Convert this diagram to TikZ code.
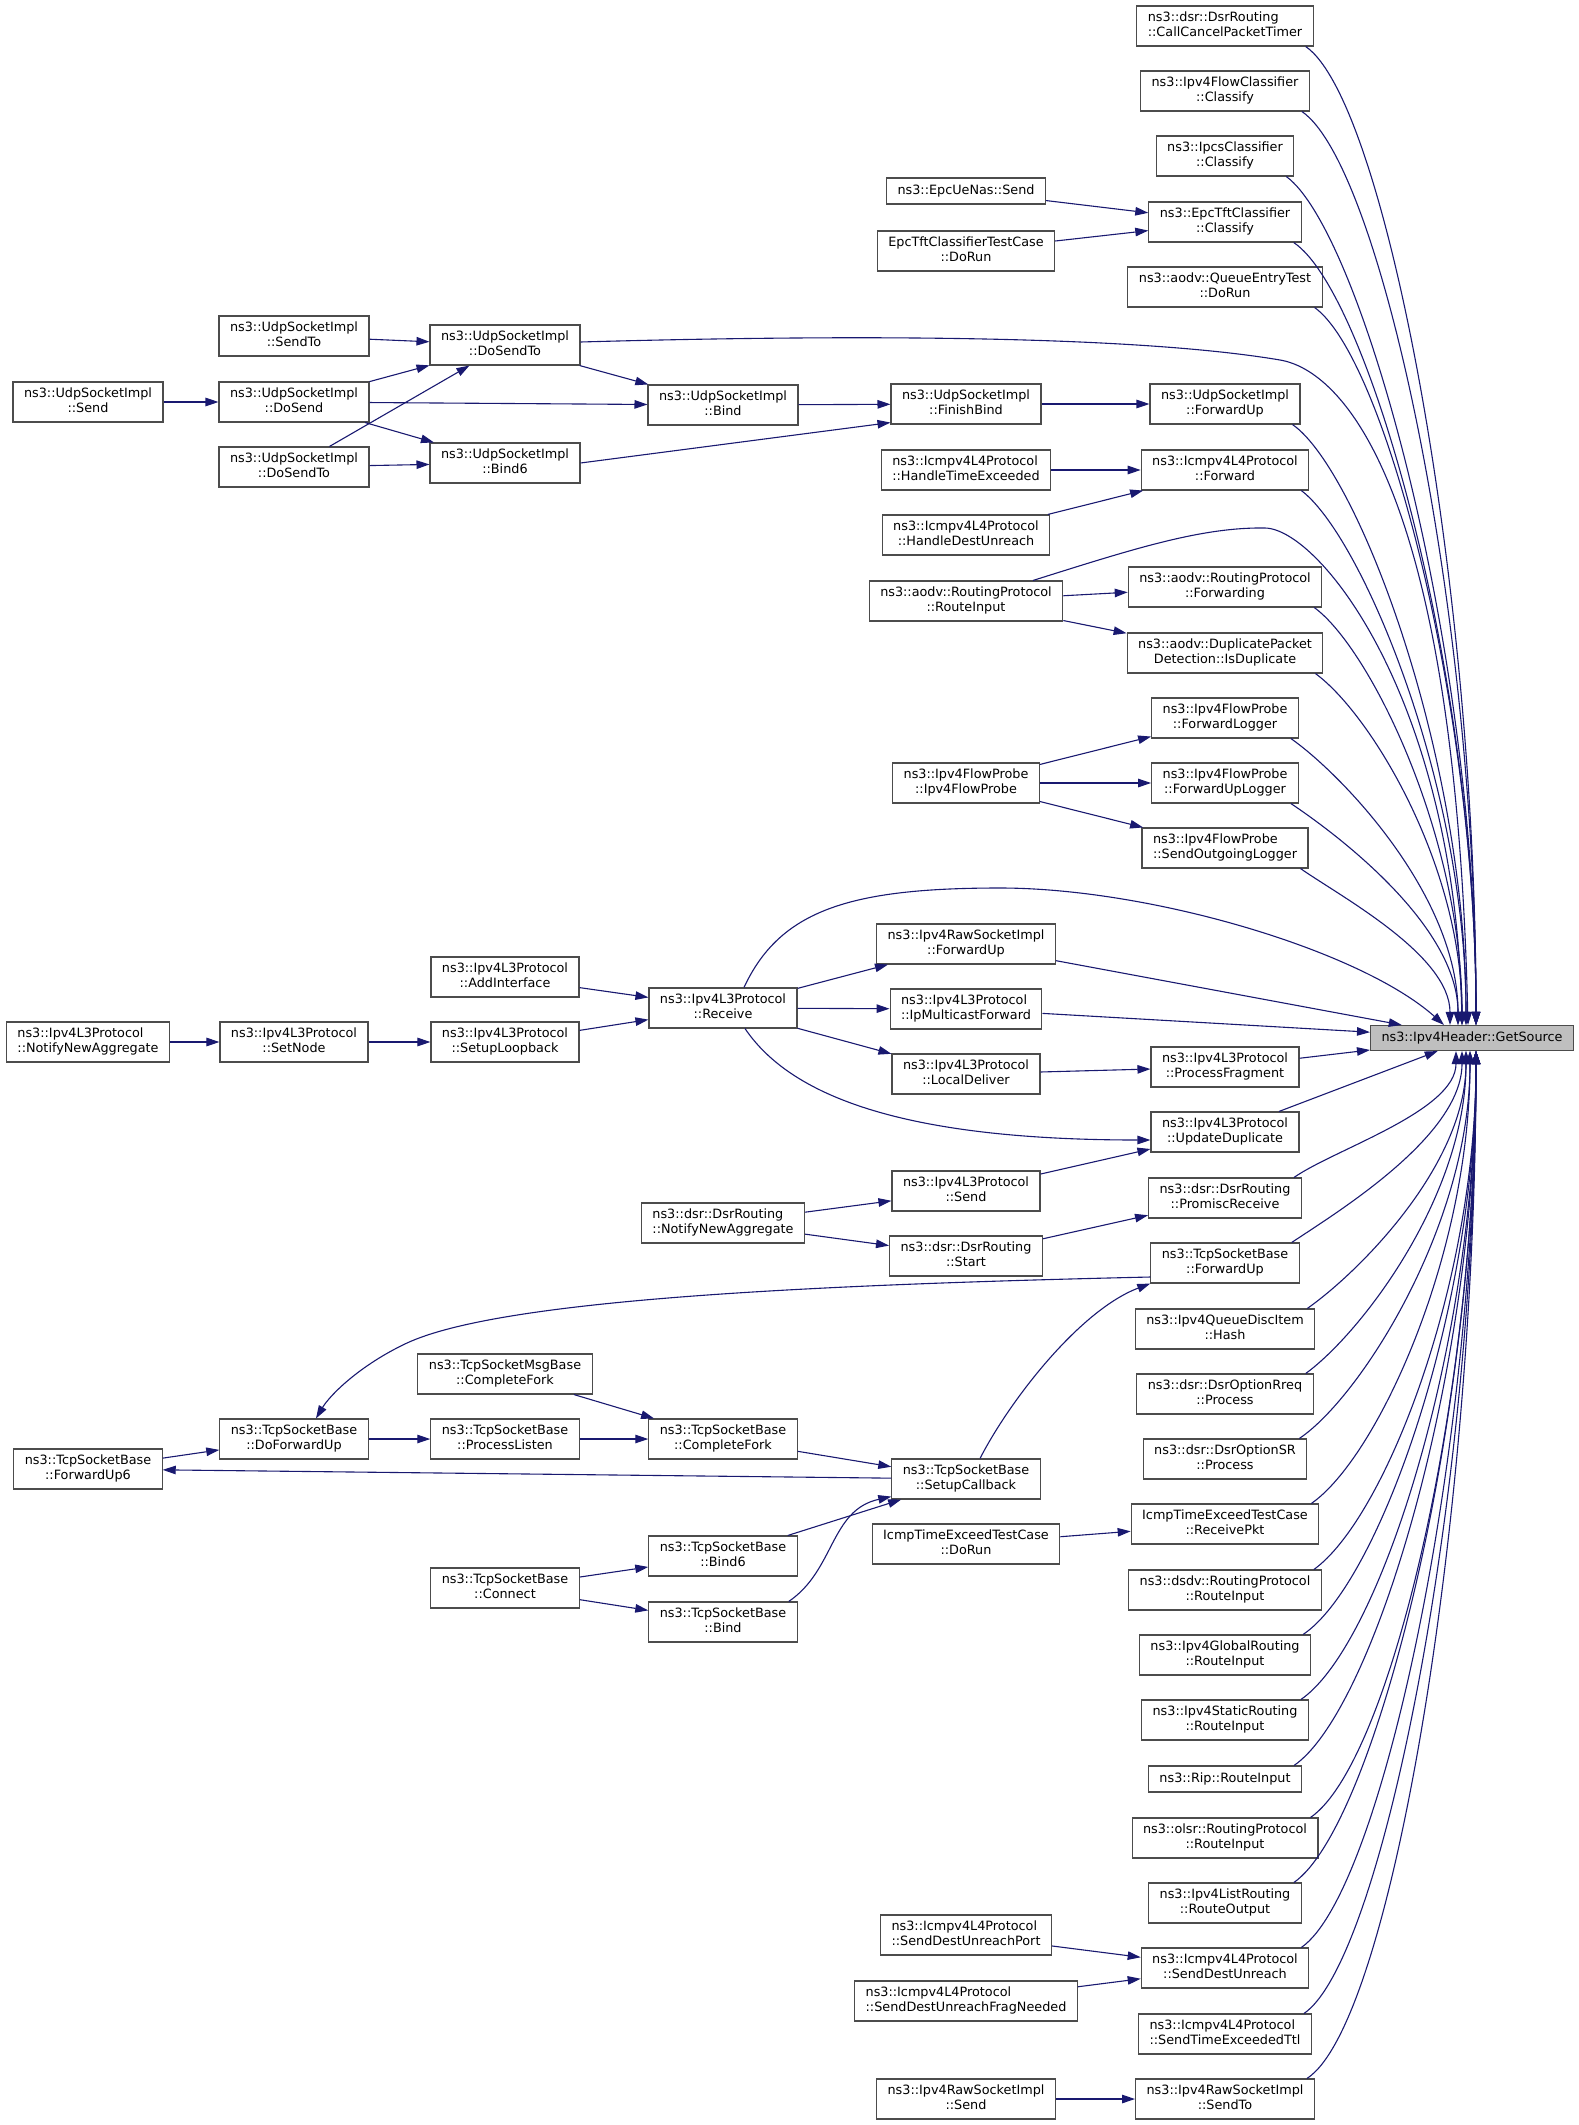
\documentclass[tikz,border=0pt]{standalone}
\usepackage{fontspec}
\setmainfont{DejaVu Sans}
\usetikzlibrary{arrows.meta}
\definecolor{edgeblue}{HTML}{191970}
\definecolor{nodegray}{HTML}{BFBFBF}
\newcommand{\nsname}[2]{\begin{tabular}{@{}l@{}}#1\\\multicolumn{1}{@{}c@{}}{#2}\end{tabular}}

\begin{document}
\begin{tikzpicture}[x=1pt, y=-1pt,
  fn/.style={draw=black!70, line width=1.1pt, fill=white, inner xsep=11pt,
    inner ysep=1pt, minimum height=40pt, font=\fontsize{12.8}{14.5}\selectfont},
  fnone/.style={fn, minimum height=26pt},
  call/.style={draw=edgeblue, line width=1.1pt,
    -{Triangle[length=13pt, width=8.5pt]}}]

  \useasboundingbox (0,0) rectangle (1579,2125);

  % the function itself
  \node[fnone, minimum height=25pt, fill=nodegray] (gs) at (1472,1038)
    {ns3::Ipv4Header::GetSource};

  % direct callers
  \node[fn] (cancel) at (1225,26) {\nsname{ns3::dsr::DsrRouting}{::CallCancelPacketTimer}};
  \node[fn] (flowcls) at (1225,91) {\nsname{ns3::Ipv4FlowClassifier}{::Classify}};
  \node[fn] (ipcs) at (1225,156) {\nsname{ns3::IpcsClassifier}{::Classify}};
  \node[fn] (epctft) at (1225,222) {\nsname{ns3::EpcTftClassifier}{::Classify}};
  \node[fn] (queuetest) at (1225,287) {\nsname{ns3::aodv::QueueEntryTest}{::DoRun}};
  \node[fn] (udpfwd) at (1225,404) {\nsname{ns3::UdpSocketImpl}{::ForwardUp}};
  \node[fn] (icmpfwd) at (1225,470) {\nsname{ns3::Icmpv4L4Protocol}{::Forward}};
  \node[fn] (aodvfwd) at (1225,587) {\nsname{ns3::aodv::RoutingProtocol}{::Forwarding}};
  \node[fn] (isdup) at (1225,653) {\nsname{ns3::aodv::DuplicatePacket}{Detection::IsDuplicate}};
  \node[fn] (fwdlog) at (1225,718) {\nsname{ns3::Ipv4FlowProbe}{::ForwardLogger}};
  \node[fn] (fwduplog) at (1225,783) {\nsname{ns3::Ipv4FlowProbe}{::ForwardUpLogger}};
  \node[fn] (sendlog) at (1225,848) {\nsname{ns3::Ipv4FlowProbe}{::SendOutgoingLogger}};
  \node[fn] (procfrag) at (1225,1067) {\nsname{ns3::Ipv4L3Protocol}{::ProcessFragment}};
  \node[fn] (updup) at (1225,1132) {\nsname{ns3::Ipv4L3Protocol}{::UpdateDuplicate}};
  \node[fn] (promisc) at (1225,1198) {\nsname{ns3::dsr::DsrRouting}{::PromiscReceive}};
  \node[fn] (tcpfwd) at (1225,1263) {\nsname{ns3::TcpSocketBase}{::ForwardUp}};
  \node[fn] (hash) at (1225,1329) {\nsname{ns3::Ipv4QueueDiscItem}{::Hash}};
  \node[fn] (rreq) at (1225,1394) {\nsname{ns3::dsr::DsrOptionRreq}{::Process}};
  \node[fn] (sr) at (1225,1459) {\nsname{ns3::dsr::DsrOptionSR}{::Process}};
  \node[fn] (rcvpkt) at (1225,1524) {\nsname{IcmpTimeExceedTestCase}{::ReceivePkt}};
  \node[fn] (dsdv) at (1225,1590) {\nsname{ns3::dsdv::RoutingProtocol}{::RouteInput}};
  \node[fn] (global) at (1225,1655) {\nsname{ns3::Ipv4GlobalRouting}{::RouteInput}};
  \node[fn] (static) at (1225,1720) {\nsname{ns3::Ipv4StaticRouting}{::RouteInput}};
  \node[fnone] (rip) at (1225,1779) {ns3::Rip::RouteInput};
  \node[fn] (olsr) at (1225,1838) {\nsname{ns3::olsr::RoutingProtocol}{::RouteInput}};
  \node[fn] (listrt) at (1225,1903) {\nsname{ns3::Ipv4ListRouting}{::RouteOutput}};
  \node[fn] (unreach) at (1225,1968) {\nsname{ns3::Icmpv4L4Protocol}{::SendDestUnreach}};
  \node[fn] (ttl) at (1225,2034) {\nsname{ns3::Icmpv4L4Protocol}{::SendTimeExceededTtl}};
  \node[fn] (rawsendto) at (1225,2099) {\nsname{ns3::Ipv4RawSocketImpl}{::SendTo}};

  % second level
  \node[fnone] (epcnas) at (966,191) {ns3::EpcUeNas::Send};
  \node[fn] (epctest) at (966,251) {\nsname{EpcTftClassifierTestCase}{::DoRun}};
  \node[fn] (finbind) at (966,404) {\nsname{ns3::UdpSocketImpl}{::FinishBind}};
  \node[fn] (timeexc) at (966,470) {\nsname{ns3::Icmpv4L4Protocol}{::HandleTimeExceeded}};
  \node[fn] (destunr) at (966,535) {\nsname{ns3::Icmpv4L4Protocol}{::HandleDestUnreach}};
  \node[fn] (aodvin) at (966,601) {\nsname{ns3::aodv::RoutingProtocol}{::RouteInput}};
  \node[fn] (probe) at (966,783) {\nsname{ns3::Ipv4FlowProbe}{::Ipv4FlowProbe}};
  \node[fn] (rawfwd) at (966,944) {\nsname{ns3::Ipv4RawSocketImpl}{::ForwardUp}};
  \node[fn] (mcast) at (966,1009) {\nsname{ns3::Ipv4L3Protocol}{::IpMulticastForward}};
  \node[fn] (locdel) at (966,1074) {\nsname{ns3::Ipv4L3Protocol}{::LocalDeliver}};
  \node[fn] (l3send) at (966,1191) {\nsname{ns3::Ipv4L3Protocol}{::Send}};
  \node[fn] (dsrstart) at (966,1256) {\nsname{ns3::dsr::DsrRouting}{::Start}};
  \node[fn] (setupcb) at (966,1479) {\nsname{ns3::TcpSocketBase}{::SetupCallback}};
  \node[fn] (icmpdorun) at (966,1544) {\nsname{IcmpTimeExceedTestCase}{::DoRun}};
  \node[fn] (unrport) at (966,1935) {\nsname{ns3::Icmpv4L4Protocol}{::SendDestUnreachPort}};
  \node[fn] (unrfrag) at (966,2001) {\nsname{ns3::Icmpv4L4Protocol}{::SendDestUnreachFragNeeded}};
  \node[fn] (rawsend) at (966,2099) {\nsname{ns3::Ipv4RawSocketImpl}{::Send}};

  % third level
  \node[fn] (udpbind) at (723,405) {\nsname{ns3::UdpSocketImpl}{::Bind}};
  \node[fn] (receive) at (723,1008) {\nsname{ns3::Ipv4L3Protocol}{::Receive}};
  \node[fn] (dsrnotify) at (723,1223) {\nsname{ns3::dsr::DsrRouting}{::NotifyNewAggregate}};
  \node[fn] (cfork) at (723,1439) {\nsname{ns3::TcpSocketBase}{::CompleteFork}};
  \node[fn] (tcpbind6) at (723,1556) {\nsname{ns3::TcpSocketBase}{::Bind6}};
  \node[fn] (tcpbind) at (723,1622) {\nsname{ns3::TcpSocketBase}{::Bind}};

  % fourth level
  \node[fn] (dosendto) at (505,345) {\nsname{ns3::UdpSocketImpl}{::DoSendTo}};
  \node[fn] (udpbind6) at (505,463) {\nsname{ns3::UdpSocketImpl}{::Bind6}};
  \node[fn] (addif) at (505,977) {\nsname{ns3::Ipv4L3Protocol}{::AddInterface}};
  \node[fn] (loopback) at (505,1042) {\nsname{ns3::Ipv4L3Protocol}{::SetupLoopback}};
  \node[fn] (msgfork) at (505,1374) {\nsname{ns3::TcpSocketMsgBase}{::CompleteFork}};
  \node[fn] (listen) at (505,1439) {\nsname{ns3::TcpSocketBase}{::ProcessListen}};
  \node[fn] (connect) at (505,1588) {\nsname{ns3::TcpSocketBase}{::Connect}};

  % fifth and sixth level
  \node[fn] (udpsendto) at (294,336) {\nsname{ns3::UdpSocketImpl}{::SendTo}};
  \node[fn] (dosend) at (294,402) {\nsname{ns3::UdpSocketImpl}{::DoSend}};
  \node[fn] (dosendto2) at (294,467) {\nsname{ns3::UdpSocketImpl}{::DoSendTo}};
  \node[fn] (setnode) at (294,1042) {\nsname{ns3::Ipv4L3Protocol}{::SetNode}};
  \node[fn] (dofwdup) at (294,1439) {\nsname{ns3::TcpSocketBase}{::DoForwardUp}};
  \node[fn] (udpsend) at (88,402) {\nsname{ns3::UdpSocketImpl}{::Send}};
  \node[fn] (l3notify) at (88,1042) {\nsname{ns3::Ipv4L3Protocol}{::NotifyNewAggregate}};
  \node[fn] (fwdup6) at (88,1469) {\nsname{ns3::TcpSocketBase}{::ForwardUp6}};

  % into GetSource from above
  \draw[call] ([xshift=-8pt]cancel.south east) .. controls +(80,55) and +(0,-440) .. ([xshift=4pt]gs.north);
  \draw[call] ([xshift=-8pt]flowcls.south east) .. controls +(80,55) and +(0,-410) .. ([xshift=4pt]gs.north);
  \draw[call] ([xshift=-8pt]ipcs.south east) .. controls +(75,55) and +(0,-380) .. ([xshift=4pt]gs.north);
  \draw[call] ([xshift=-8pt]epctft.south east) .. controls +(75,50) and +(0,-350) .. ([xshift=4pt]gs.north);
  \draw[call] ([xshift=-8pt]queuetest.south east) .. controls +(70,50) and +(0,-320) .. ([xshift=4pt]gs.north);
  \draw[call] ([yshift=3pt]dosendto.east) .. controls (900,333) and (1150,338) .. (1280,360)
    .. controls (1340,370) and (1455,480) .. ([xshift=-4pt]gs.north);
  \draw[call] ([xshift=-8pt]udpfwd.south east) .. controls +(65,45) and +(0,-270) .. ([xshift=-6pt]gs.north);
  \draw[call] ([xshift=-8pt]icmpfwd.south east) .. controls +(60,45) and +(0,-240) .. ([xshift=-6pt]gs.north);
  \draw[call] ([xshift=67pt]aodvin.north) .. controls (1130,550) and (1200,527) .. (1265,528)
    .. controls (1320,529) and (1455,700) .. ([xshift=-10pt]gs.north);
  \draw[call] ([xshift=-8pt]aodvfwd.south east) .. controls +(55,40) and +(0,-190) .. ([xshift=-10pt]gs.north);
  \draw[call] ([xshift=-8pt]isdup.south east) .. controls +(55,40) and +(0,-160) .. ([xshift=-10pt]gs.north);
  \draw[call] ([xshift=-8pt]fwdlog.south east) .. controls +(50,35) and +(0,-130) .. ([xshift=-14pt]gs.north);
  \draw[call] ([xshift=-8pt]fwduplog.south east) .. controls +(45,30) and +(0,-100) .. ([xshift=-14pt]gs.north);
  \draw[call] ([xshift=-8pt]sendlog.south east) .. controls +(40,28) and +(0,-70) .. ([xshift=-22pt]gs.north);
  \draw[call] ([xshift=21pt]receive.north) .. controls (780,910) and (850,888) .. (1000,888)
    .. controls (1150,888) and (1360,950) .. ([xshift=-28pt]gs.north);
  \draw[call] (rawfwd) -- (gs);
  \draw[call] (mcast) -- (gs);

  % into GetSource from below
  \draw[call] (procfrag) -- (gs);
  \draw[call] (updup) -- (gs);
  \draw[call] ([xshift=-8pt]promisc.north east) .. controls +(40,-28) and +(0,60) .. ([xshift=-16pt]gs.south);
  \draw[call] ([xshift=-8pt]tcpfwd.north east) .. controls +(45,-30) and +(0,85) .. ([xshift=-10pt]gs.south);
  \draw[call] ([xshift=-8pt]hash.north east) .. controls +(50,-35) and +(0,115) .. ([xshift=-6pt]gs.south);
  \draw[call] ([xshift=-8pt]rreq.north east) .. controls +(55,-40) and +(0,145) .. ([xshift=-6pt]gs.south);
  \draw[call] ([xshift=-8pt]sr.north east) .. controls +(60,-40) and +(0,175) .. ([xshift=-2pt]gs.south);
  \draw[call] ([xshift=-8pt]rcvpkt.north east) .. controls +(65,-45) and +(0,205) .. ([xshift=-2pt]gs.south);
  \draw[call] ([xshift=-8pt]dsdv.north east) .. controls +(70,-50) and +(0,235) .. ([xshift=4pt]gs.south);
  \draw[call] ([xshift=-8pt]global.north east) .. controls +(75,-50) and +(0,260) .. ([xshift=4pt]gs.south);
  \draw[call] ([xshift=-8pt]static.north east) .. controls +(80,-55) and +(0,290) .. ([xshift=4pt]gs.south);
  \draw[call] ([xshift=-8pt]rip.north east) .. controls +(80,-55) and +(0,320) .. ([xshift=4pt]gs.south);
  \draw[call] ([xshift=-8pt]olsr.north east) .. controls +(80,-55) and +(0,345) .. ([xshift=4pt]gs.south);
  \draw[call] ([xshift=-8pt]listrt.north east) .. controls +(80,-55) and +(0,375) .. ([xshift=4pt]gs.south);
  \draw[call] ([xshift=-8pt]unreach.north east) .. controls +(80,-55) and +(0,400) .. ([xshift=4pt]gs.south);
  \draw[call] ([xshift=-8pt]ttl.north east) .. controls +(80,-55) and +(0,430) .. ([xshift=4pt]gs.south);
  \draw[call] ([xshift=-8pt]rawsendto.north east) .. controls +(85,-55) and +(0,460) .. ([xshift=4pt]gs.south);

  % udp sockets
  \draw[call] (udpsend) -- (dosend);
  \draw[call] (udpsendto) -- (dosendto);
  \draw[call] (dosend) -- (dosendto);
  \draw[call] (dosendto2) -- (dosendto);
  \draw[call] (dosend) -- (udpbind6);
  \draw[call] (dosendto2) -- (udpbind6);
  \draw[call] (dosendto) -- (udpbind);
  \draw[call] (dosend) -- (udpbind);
  \draw[call] (udpbind) -- (finbind);
  \draw[call] (udpbind6.east) -- ([yshift=2pt]finbind.south west);
  \draw[call] (finbind) -- (udpfwd);

  % epc, icmp, aodv, flow probe
  \draw[call] (epcnas) -- (epctft);
  \draw[call] (epctest) -- (epctft);
  \draw[call] (timeexc) -- (icmpfwd);
  \draw[call] (destunr) -- (icmpfwd);
  \draw[call] (aodvin) -- (aodvfwd);
  \draw[call] (aodvin) -- (isdup);
  \draw[call] (probe) -- (fwdlog);
  \draw[call] (probe) -- (fwduplog);
  \draw[call] (probe) -- (sendlog);

  % ipv4 l3 protocol
  \draw[call] (l3notify) -- (setnode);
  \draw[call] (setnode) -- (loopback);
  \draw[call] (addif) -- (receive);
  \draw[call] (loopback) -- (receive);
  \draw[call] (receive) -- (rawfwd);
  \draw[call] (receive) -- (mcast);
  \draw[call] (receive) -- (locdel);
  \draw[call] ([xshift=22pt]receive.south) .. controls (790,1095) and (900,1140) .. ([yshift=-8pt]updup.west);
  \draw[call] (locdel) -- (procfrag);
  \draw[call] (l3send) -- (updup);
  \draw[call] (dsrnotify) -- (l3send);
  \draw[call] (dsrnotify) -- (dsrstart);
  \draw[call] (dsrstart) -- (promisc);

  % tcp sockets
  \draw[call] ([yshift=-14pt]tcpfwd.west) .. controls (800,1285) and (500,1300) .. (407,1343)
    .. controls (360,1365) and (330,1395) .. ([xshift=22pt]dofwdup.north);
  \draw[call] ([xshift=14pt]setupcb.north) .. controls (1010,1400) and (1080,1310) .. (tcpfwd.south west);
  \draw[call] (fwdup6) -- (dofwdup);
  \draw[call] (dofwdup) -- (listen);
  \draw[call] (listen) -- (cfork);
  \draw[call] (msgfork) -- (cfork);
  \draw[call] (cfork) -- (setupcb);
  \draw[call] (setupcb) -- (fwdup6);
  \draw[call] (tcpbind6) -- (setupcb);
  \draw[call] ([xshift=-9pt]tcpbind.north east) .. controls (835,1570) and (830,1510) .. ([yshift=3pt]setupcb.south west);
  \draw[call] (connect) -- (tcpbind6);
  \draw[call] (connect) -- (tcpbind);

  % remaining callers
  \draw[call] (icmpdorun) -- (rcvpkt);
  \draw[call] (unrport) -- (unreach);
  \draw[call] (unrfrag) -- (unreach);
  \draw[call] (rawsend) -- (rawsendto);
\end{tikzpicture}
\end{document}
